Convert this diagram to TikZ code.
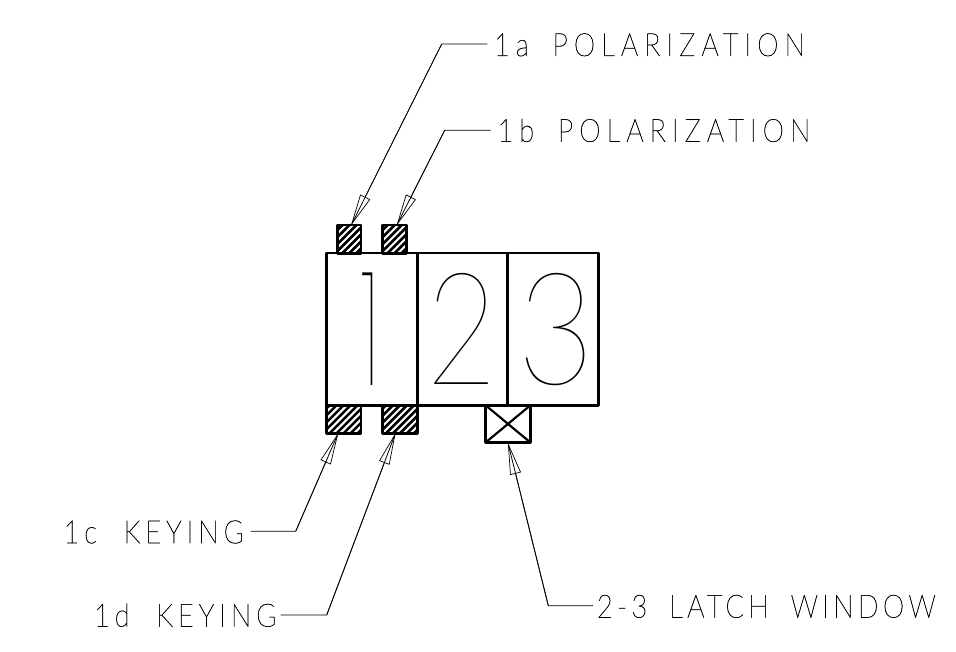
\documentclass[tikz,border=0pt]{standalone}
\usepackage{fontspec}
\usepackage{graphicx}
\usepackage{tikz}
\usetikzlibrary{arrows.meta}
\newfontfamily\cadfont{Lato Thin}[LetterSpace=19,FakeStretch=0.85,RawFeature={embolden=1.2}]
\newfontfamily\keyfont{Lato Thin}[LetterSpace=15.6,FakeStretch=0.85,RawFeature={embolden=1.2}]
\newfontfamily\winfont{Lato Thin}[LetterSpace=13.5,FakeStretch=0.85,RawFeature={embolden=1.2}]
\newfontfamily\bigfont{Lato Hairline}
\newfontfamily\barfont{Poppins Thin}

\tikzset{
	cell/.style={draw=black,line width=2.6pt,line join=round,minimum height=152pt,inner sep=0pt,outer sep=0pt},
	digit/.style={inner sep=0pt,outer sep=0pt,font=\bigfont\fontsize{157}{157}\selectfont},
	tab/.style={draw=black,line width=2.6pt,line join=round,inner sep=0pt,outer sep=0pt,minimum height=28.3pt},
	note/.style={inner sep=0pt,outer sep=0pt,anchor=base west,font=\fontsize{32}{32}\selectfont},
	leader/.style={draw=black,line width=0.8pt},
	headtip/.style={draw=black,line width=0.7pt,-{Triangle[open,round,length=32pt,width=11pt]}}
}
\newcommand{\hatchtab}[1]{
	\begin{scope}
	\clip (#1.south west) rectangle (#1.north east);
	\foreach \k in {-42,-35,...,42}
		\draw[line width=2.6pt] ([xshift=\k pt]#1.center) ++(-30,30) -- ++(60,-60);
	\end{scope}
}

\begin{document}
\begin{tikzpicture}[x=1pt,y=-1pt]
\useasboundingbox (0,0) rectangle (956,652);

% body
\node[cell,minimum width=90.8pt] (one) at (372,329.2) {};
\node[cell,minimum width=90pt] (two) at (462.3,329.2) {};
\node[cell,minimum width=91.4pt] (three) at (553,329.2) {};
\node[digit] (numa) at (370.5,329.2) {\barfont\fontsize{160}{160}\selectfont\scalebox{0.5}[1]{1}};
\node[digit] (numb) at (462.5,329.2) {\scalebox{0.78}[1]{2}};
\node[digit] (numc) at (556,329.2) {\scalebox{0.85}[1]{3}};

% tabs
\node[tab,minimum width=23.3pt] (taba) at (349.3,239.2) {};
\node[tab,minimum width=23.6pt] (tabb) at (394.5,239.2) {};
\node[tab,minimum width=34.5pt] (tabc) at (343.7,419.2) {};
\node[tab,minimum width=34.6pt] (tabd) at (400,419.2) {};
\hatchtab{taba}
\hatchtab{tabb}
\hatchtab{tabc}
\hatchtab{tabd}

% latch
\node[draw=black,line width=2.8pt,line join=round,inner sep=0pt,outer sep=0pt,minimum width=45.4pt,minimum height=37.7pt] (latch) at (508,423.9) {};
\draw[line width=2.2pt] (latch.north west) -- (latch.south east);
\draw[line width=2.2pt] (latch.north east) -- (latch.south west);

% labels
\node[note] (pola) at (494,56) {\cadfont 1a\hspace{10pt} POLARIZATION};
\node[note] (polb) at (497.5,141.8) {\cadfont 1b\hspace{10pt} POLARIZATION};
\node[note] (keyc) at (63.5,543.2) {\keyfont 1c\hspace{14pt} KEYING};
\node[note] (keyd) at (94,626.6) {\keyfont 1d\hspace{14pt} KEYING};
\node[note] (wind) at (597,617.6) {\winfont 2-3\hspace{10pt} LATCH\hspace{10pt} WINDOW};

% leaders
\coordinate (ea) at (441.7,44);
\coordinate (eb) at (444.7,130.3);
\coordinate (ec) at (295.7,531.3);
\coordinate (ed) at (326.7,615);
\coordinate (ew) at (548.3,605.7);
\coordinate (ta) at (351.7,224);
\coordinate (tb) at (397.3,224);
\coordinate (tc) at (337.7,434.5);
\coordinate (td) at (395,434.5);
\coordinate (tw) at (508.3,444.3);

\draw[leader] (487.3,44) -- (ea) -- (ta);
\draw[leader] (490.7,130.3) -- (eb) -- (tb);
\draw[leader] (250.7,531.3) -- (ec) -- (tc);
\draw[leader] (280.7,615) -- (ed) -- (td);
\draw[leader] (593.3,605.7) -- (ew) -- (tw);

\draw[headtip] (ea) -- (ta);
\draw[headtip] (eb) -- (tb);
\draw[headtip] (ec) -- (tc);
\draw[headtip] (ed) -- (td);
\draw[headtip] (ew) -- (tw);

\end{tikzpicture}
\end{document}
